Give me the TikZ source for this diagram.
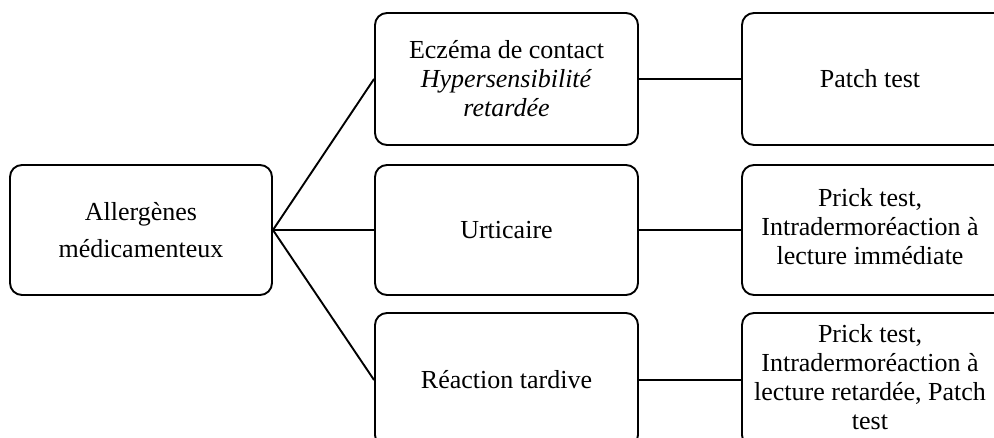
\documentclass[tikz,border=0pt]{standalone}
\usepackage{fontspec}
\setmainfont{Liberation Serif}
\begin{document}
\begin{tikzpicture}[x=1pt,y=-1pt,
  box/.style={draw, line width=1.9pt, rounded corners=12pt, align=center,
    inner sep=0pt, font=\fontsize{26}{29}\selectfont},
  wide/.style={font=\fontsize{26}{37}\selectfont},
  link/.style={line width=1.9pt}]
\useasboundingbox (0,0) rectangle (994,438);
\begin{scope}
\clip (0,0) rectangle (994,438);

% root
\node[box, wide, minimum width=262pt, minimum height=130pt] (root) at (141,230)
  {Allergènes\\médicamenteux};

% clinical pictures
\node[box, minimum width=263pt, minimum height=132pt] (ecz) at (506.5,79)
  {Eczéma de contact\\\textit{Hypersensibilité}\\\textit{retardée}};
\node[box, minimum width=263pt, minimum height=130pt] (urt) at (506.5,230)
  {Urticaire};
\node[box, minimum width=263pt, minimum height=134pt] (tard) at (506.5,380)
  {Réaction tardive};

% tests (their right side runs past the page edge)
\node[box, minimum width=264pt, minimum height=132pt] (patch) at (874,79)
  {\hspace*{-8pt}Patch test};
\node[box, minimum width=264pt, minimum height=130pt] (prick) at (874,230)
  {\hspace*{-8pt}\begin{tabular}{@{}c@{}}Prick test,\\Intradermoréaction à\\lecture immédiate\end{tabular}};
\node[box, minimum width=264pt, minimum height=134pt] (mix) at (874,380)
  {\hspace*{-8pt}\begin{tabular}{@{}c@{}}Prick test,\\Intradermoréaction à\\lecture retardée, Patch\\test\end{tabular}};

% connectors
\draw[link] (root.east) -- (ecz.west);
\draw[link] (root.east) -- (urt.west);
\draw[link] (root.east) -- (tard.west);
\draw[link] (ecz.east) -- (patch.west);
\draw[link] (urt.east) -- (prick.west);
\draw[link] (tard.east) -- (mix.west);
\end{scope}
\end{tikzpicture}
\end{document}
